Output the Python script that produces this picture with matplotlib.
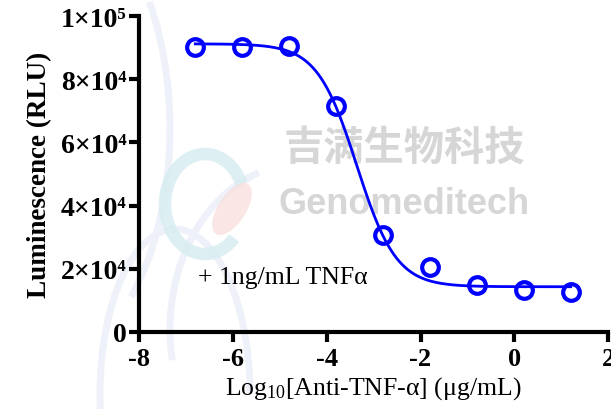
import numpy as np
import matplotlib
matplotlib.use("Agg")
import matplotlib.pyplot as plt
from matplotlib.patches import Arc, Ellipse

plt.rcParams['font.family'] = ['Liberation Serif', 'DejaVu Serif']
plt.rcParams['mathtext.fontset'] = 'custom'
plt.rcParams['mathtext.rm'] = 'Liberation Serif'
plt.rcParams['mathtext.it'] = 'Liberation Serif:italic'
plt.rcParams['mathtext.bf'] = 'Liberation Serif:bold'

# data
log_conc = [-6.8, -5.8, -4.8, -3.8, -2.8, -1.8, -0.8, 0.2, 1.2]
rlu = [90300, 90200, 90400, 71400, 30800, 20600, 15000, 13200, 12700]

# 4PL fit parameters
fit_top = 91200
fit_bottom = 14300
fit_logec50 = -3.36
fit_hill = 1.03

x_ticks = [-8, -6, -4, -2, 0, 2]
y_ticks = [0, 20000, 40000, 60000, 80000, 100000]
y_tick_labels = ['0', '2×10⁴', '4×10⁴', '6×10⁴', '8×10⁴', '1×10⁵']

fig = plt.figure(figsize=(6.11, 4.10), dpi=100)

# faint background decoration arcs (in pixel-like figure fractions)
W, H = 611.0, 410.0
arcs = [
    (175, 395, 150, 330, 0, 180),
    (175, 395, 150, 330, 180, 200),
    (40, 130, 260, 470, -70, 60),
    (300, 330, 260, 330, 100, 200),
]
for (cx, cy, w, h, t1, t2) in arcs:
    fig.add_artist(Arc((cx / W, 1 - cy / H), w / W, h / H, theta1=t1, theta2=t2,
                       transform=fig.transFigure, color='#eef1f9', lw=5, zorder=0))
# faint logo blobs
fig.add_artist(Arc((205 / W, 1 - 205 / H), 80 / W, 100 / H, theta1=40, theta2=300, transform=fig.transFigure,
                   edgecolor='#d5ecef', lw=9, alpha=0.8, zorder=0))
fig.add_artist(Ellipse((232 / W, 1 - 210 / H), 30 / W, 55 / H, angle=-20, transform=fig.transFigure,
                       facecolor='#f8dcda', edgecolor='none', alpha=0.7, zorder=0))

ax = fig.add_axes([0.2275, 0.188, 0.9955 - 0.2275, 0.9585 - 0.188])
ax.patch.set_alpha(0)

# watermark
ax.text(0.565, 0.585, '吉满生物科技', transform=ax.transAxes, fontsize=29, fontweight='bold',
        color='#d6d6d6', family=['Noto Sans CJK SC'], ha='center', va='center', zorder=0)
ax.text(0.565, 0.405, 'Genomeditech', transform=ax.transAxes, fontsize=26, fontweight='bold',
        color='#d6d6d6', family=['Liberation Sans'], ha='center', va='center', zorder=0)

xs = np.linspace(min(log_conc), max(log_conc), 400)
ys = fit_bottom + (fit_top - fit_bottom) / (1 + 10 ** ((xs - fit_logec50) * fit_hill))
ax.plot(xs, ys, color='#0000ff', lw=2, zorder=3)
ax.plot(log_conc, rlu, 'o', ms=12, mfc='none', mec='#0000ff', mew=3, zorder=4)

ax.set_xlim(-8, 2)
ax.set_ylim(0, 100000)
ax.set_xticks(x_ticks)
ax.set_xticklabels([str(v) for v in x_ticks])
ax.set_yticks(y_ticks)
ax.set_yticklabels(y_tick_labels)

for s in ['top', 'right']:
    ax.spines[s].set_visible(False)
for s in ['left', 'bottom']:
    ax.spines[s].set_linewidth(3)
ax.tick_params(axis='both', width=3, length=7, labelsize=19, direction='out')
ax.tick_params(axis='y', pad=2, labelsize=20)
ax.tick_params(axis='x', pad=4)
for lab in ax.get_xticklabels() + ax.get_yticklabels():
    lab.set_fontweight('bold')

ax.set_ylabel('Luminescence (RLU)', fontsize=19.5, fontweight='bold', labelpad=6)
ax.set_xlabel(r'Log$_{10}$[Anti-TNF-α] (μg/mL)', fontsize=18.5, labelpad=3)

ax.text(-6.75, 17500, '+ 1ng/mL TNFα', fontsize=18.5, ha='left', va='center', zorder=5)

fig.savefig('out.png', dpi=100)
